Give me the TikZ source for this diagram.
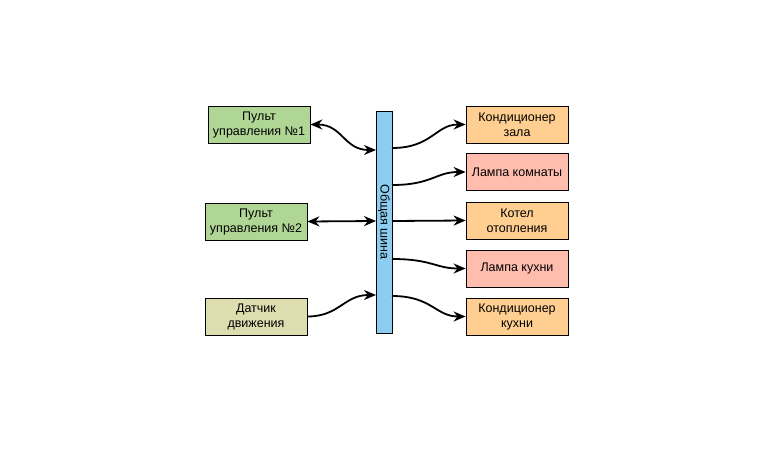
\documentclass[tikz,border=0pt]{standalone}
\usepackage{fontspec}
\setmainfont{Liberation Sans}
\usetikzlibrary{arrows.meta}
\definecolor{pultgreen}{RGB}{176,214,150}
\definecolor{sensortan}{RGB}{222,221,176}
\definecolor{condorange}{RGB}{255,207,145}
\definecolor{lamppink}{RGB}{255,189,174}
\definecolor{busblue}{RGB}{141,206,240}
\begin{document}
\begin{tikzpicture}[x=1pt,y=-1pt]

	\tikzstyle{box} = [rectangle,draw=black,line width=0.8pt,minimum width=102pt,minimum height=37pt,inner sep=0pt,align=center,font=\fontsize{12.5}{15}\selectfont]
	\tikzstyle{pult} = [box,fill=pultgreen]
	\tikzstyle{sensor} = [box,fill=sensortan]
	\tikzstyle{cond} = [box,fill=condorange]
	\tikzstyle{lamp} = [box,fill=lamppink]
	\tikzstyle{bus} = [rectangle,draw=black,line width=0.8pt,fill=busblue,minimum width=16pt,minimum height=222pt,inner sep=0pt]
	\tikzstyle{flecha} = [-{Stealth[length=12pt,width=10pt]},line width=1.8pt]
	\tikzstyle{dobleflecha} = [{Stealth[length=12pt,width=10pt]}-{Stealth[length=12pt,width=10pt]},line width=1.8pt]

	\useasboundingbox (0,0) rectangle (761,455);

	\node[pult] (p1)	at (259,124.5)	{Пульт\\управления №1};
	\node[pult] (p2)	at (256,221.5)	{Пульт\\управления №2};
	\node[sensor] (d)	at (256,316.5)	{Датчик\\движения};

	\node[bus] (b)		at (384,222)	{};
	\node[rotate=-90,font=\fontsize{12.5}{15}\selectfont] at (b.center) {Общая шина};

	\node[cond] (c1)	at (517,124.5)	{Кондиционер\\зала};
	\node[lamp] (l1)	at (517,172)	{Лампа комнаты};
	\node[cond] (k)		at (517,220.5)	{Котел\\отопления};
	\node[lamp] (l2)	at (517,268.5)	{Лампа кухни};
	\node[cond] (c2)	at (517,316.5)	{Кондиционер\\кухни};

	% points on the bus
	\coordinate (bw1) at (376,150);
	\coordinate (bw2) at (376,221);
	\coordinate (bw3) at (376,295);
	\coordinate (be1) at (392,148);
	\coordinate (be2) at (392,185);
	\coordinate (be3) at (392,221);
	\coordinate (be4) at (392,259);
	\coordinate (be5) at (392,296);

	\draw[dobleflecha] (p1.east) .. controls +(32,0) and +(-32,0) .. (bw1);
	\draw[dobleflecha] (p2.east) -- (bw2);
	\draw[flecha] (d.east) .. controls +(32,0) and +(-32,0) .. (bw3);

	\draw[flecha] (be1) .. controls +(40,0) and +(-30,0) .. (c1.west);
	\draw[flecha] (be2) .. controls +(40,0) and +(-30,0) .. (l1.west);
	\draw[flecha] (be3) -- (k.west);
	\draw[flecha] (be4) .. controls +(40,0) and +(-30,0) .. (l2.west);
	\draw[flecha] (be5) .. controls +(40,0) and +(-30,0) .. (c2.west);

\end{tikzpicture}
\end{document}
